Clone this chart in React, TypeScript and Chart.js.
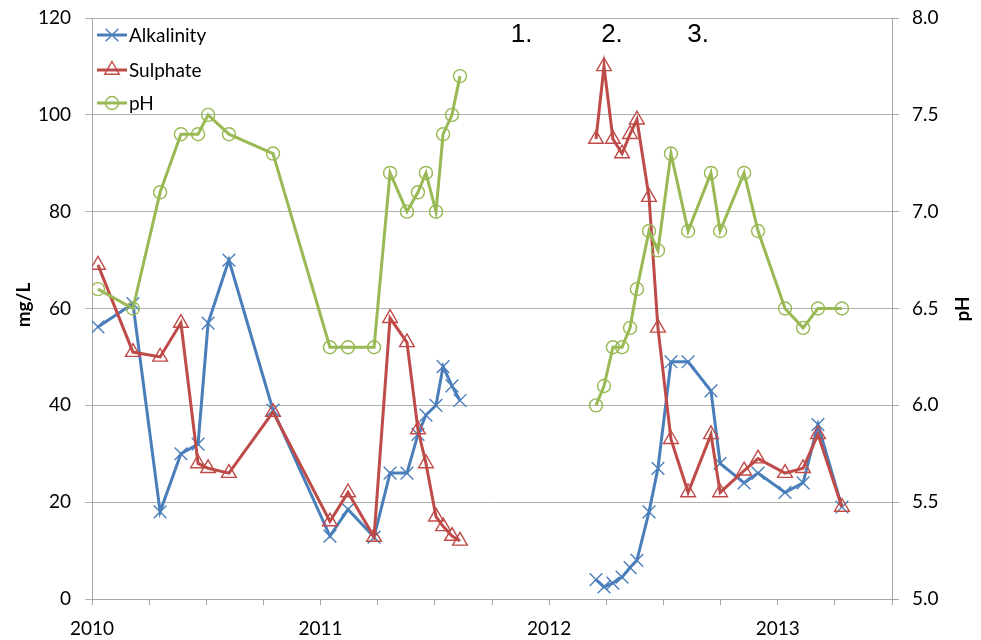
import React, { useEffect, useRef } from "react";
import { Chart, registerables } from "chart.js";
import { drawPoint } from "chart.js/helpers";

Chart.register(...registerables);

// Sampling dates (decimal years)
const dates2010 = [2010.026, 2010.179, 2010.298, 2010.389, 2010.464, 2010.508, 2010.599, 2010.792, 2011.041, 2011.12, 2011.234, 2011.304, 2011.378, 2011.426, 2011.461, 2011.505, 2011.536, 2011.575, 2011.61];
const dates2012 = [2012.205, 2012.24, 2012.279, 2012.319, 2012.354, 2012.384, 2012.437, 2012.476, 2012.533, 2012.608, 2012.708, 2012.748, 2012.853, 2012.914, 2013.032, 2013.111, 2013.176, 2013.281];

// Alkalinity (mg/L)
const alkalinity2010 = [56.2, 61, 18, 30, 32, 57, 70, 39, 13, 18.5, 12.8, 26, 26, 34, 38, 40, 48, 44, 41];
const alkalinity2012 = [4, 2.5, 3.3, 4.5, 6.5, 8, 18, 27, 49, 49, 43, 28, 24, 26, 22, 24, 36, 19];
// Sulphate (mg/L)
const sulphate2010 = [69, 51, 50, 57, 28, 27, 26, 38.6, 16, 22, 12.8, 58, 53, 35, 28, 17, 15, 13, 12];
const sulphate2012 = [95, 110, 95, 92, 96, 99, 83, 56, 33, 22, 34, 22, 26.5, 29, 26, 27, 34, 19];
// pH
const ph2010 = [6.6, 6.5, 7.1, 7.4, 7.4, 7.5, 7.4, 7.3, 6.3, 6.3, 6.3, 7.2, 7.0, 7.1, 7.2, 7.0, 7.4, 7.5, 7.7];
const ph2012 = [6.0, 6.1, 6.3, 6.3, 6.4, 6.6, 6.9, 6.8, 7.3, 6.9, 7.2, 6.9, 7.2, 6.9, 6.5, 6.4, 6.5, 6.5];

const gapDate = 2011.9;

// Phase annotations
const phaseLabels = ["1.", "2.", "3."];
const phaseX = [2011.88, 2012.275, 2012.652];
const phaseY = 116.5;

const FONT = "Lato, 'Open Sans', sans-serif";
const BLUE = "#4a7ebb";
const RED = "#be4b48";
const GREEN = "#98b954";
const AXIS = "#a6a6a6";

function build(d1: number[], v1: number[], d2: number[], v2: number[]) {
  return [
    ...d1.map((x, i) => ({ x, y: v1[i] })),
    { x: gapDate, y: null },
    ...d2.map((x, i) => ({ x, y: v2[i] })),
  ];
}

const overlayPlugin = {
  id: "overlay",
  afterDraw(chart: any) {
    const ctx = chart.ctx;
    const xs = chart.scales.x;
    const ys = chart.scales.y;
    ctx.save();
    // phase labels
    ctx.fillStyle = "#000";
    ctx.font = "26px 'Liberation Sans', Arial, sans-serif";
    ctx.textAlign = "center";
    ctx.textBaseline = "middle";
    phaseLabels.forEach((t, i) => {
      ctx.fillText(t, xs.getPixelForValue(phaseX[i]), ys.getPixelForValue(phaseY));
    });
    // axis titles
    ctx.font = `bold 19px ${FONT}`;
    ctx.save();
    ctx.translate(24, 305);
    ctx.rotate(-Math.PI / 2);
    ctx.fillText("mg/L", 0, 0);
    ctx.restore();
    ctx.save();
    ctx.translate(963, 309);
    ctx.rotate(-Math.PI / 2);
    ctx.fillText("pH", 0, 0);
    ctx.restore();
    // legend
    const rows = [35, 70, 103];
    chart.data.datasets.forEach((ds: any, i: number) => {
      const y = rows[i];
      ctx.strokeStyle = ds.borderColor;
      ctx.lineWidth = ds.borderWidth;
      ctx.beginPath();
      ctx.moveTo(97, y);
      ctx.lineTo(127, y);
      ctx.stroke();
      ctx.strokeStyle = ds.pointBorderColor;
      ctx.fillStyle = "rgba(0,0,0,0)";
      ctx.lineWidth = ds.pointBorderWidth;
      drawPoint(ctx, { pointStyle: ds.pointStyle, rotation: 0, radius: ds.pointRadius, borderWidth: ds.pointBorderWidth }, 112, y);
      ctx.fillStyle = "#000";
      ctx.font = `19px ${FONT}`;
      ctx.textAlign = "left";
      ctx.textBaseline = "middle";
      ctx.fillText(ds.label, 129, y + 1);
    });
    ctx.restore();
  },
};

export default function App() {
  const ref = useRef<HTMLCanvasElement>(null);
  useEffect(() => {
    if (!ref.current) return;
    const chart = new Chart(ref.current, {
      type: "line",
      data: {
        datasets: [
          {
            label: "Alkalinity",
            data: build(dates2010, alkalinity2010, dates2012, alkalinity2012),
            borderColor: BLUE,
            borderWidth: 3,
            pointStyle: "crossRot",
            pointRadius: 9,
            pointBorderColor: BLUE,
            pointBorderWidth: 1.4,
            pointBackgroundColor: "rgba(0,0,0,0)",
            yAxisID: "y",
            order: 3,
          } as any,
          {
            label: "Sulphate",
            data: build(dates2010, sulphate2010, dates2012, sulphate2012),
            borderColor: RED,
            borderWidth: 3,
            pointStyle: "triangle",
            pointRadius: 8.5,
            pointBorderColor: RED,
            pointBorderWidth: 1.4,
            pointBackgroundColor: "rgba(0,0,0,0)",
            yAxisID: "y",
            order: 2,
          },
          {
            label: "pH",
            data: build(dates2010, ph2010, dates2012, ph2012),
            borderColor: GREEN,
            borderWidth: 3,
            pointStyle: "circle",
            pointRadius: 6.5,
            pointBorderColor: GREEN,
            pointBorderWidth: 1.4,
            pointBackgroundColor: "rgba(0,0,0,0)",
            yAxisID: "y1",
            order: 1,
          },
        ],
      },
      options: {
        animation: false,
        responsive: false,
        maintainAspectRatio: false,
        spanGaps: false,
        layout: { padding: { top: 18, left: 0, right: 0, bottom: 0 } },
        plugins: { legend: { display: false }, tooltip: { enabled: false } },
        scales: {
          x: {
            type: "linear",
            min: 2010,
            max: 2013.5,
            ticks: {
              stepSize: 0.25,
              autoSkip: false,
              maxRotation: 0,
              padding: 12,
              color: "#000",
              font: { family: FONT, size: 19 },
              callback: (v: any) => (Math.abs(v - Math.round(v)) < 1e-6 ? String(Math.round(v)) : ""),
            },
            grid: { drawOnChartArea: false, drawTicks: true, tickLength: 6, color: AXIS },
            border: { color: AXIS },
            afterFit: (s: any) => { s.height = 41; s.paddingLeft = 0; s.paddingRight = 0; },
          },
          y: {
            position: "left",
            min: 0,
            max: 120,
            ticks: { stepSize: 20, padding: 14, color: "#000", font: { family: FONT, size: 19 } },
            grid: { color: "#b0b0b0", tickLength: 7 },
            border: { color: AXIS },
            afterFit: (s: any) => { s.width = 92; s.paddingTop = 0; s.paddingBottom = 0; },
          },
          y1: {
            position: "right",
            min: 5,
            max: 8,
            ticks: {
              stepSize: 0.5,
              padding: 13,
              color: "#000",
              font: { family: FONT, size: 19 },
              callback: (v: any) => Number(v).toFixed(1),
            },
            grid: { drawOnChartArea: false, tickLength: 7, color: AXIS },
            border: { color: AXIS },
            afterFit: (s: any) => { s.width = 89; s.paddingTop = 0; s.paddingBottom = 0; },
          },
        },
      } as any,
      plugins: [overlayPlugin],
    });
    return () => chart.destroy();
  }, []);
  return (
    <div style={{ position: "absolute", left: 0, top: 0, width: 981, height: 640, background: "#fff" }}>
      <canvas ref={ref} width={981} height={640} style={{ display: "block" }} />
    </div>
  );
}
